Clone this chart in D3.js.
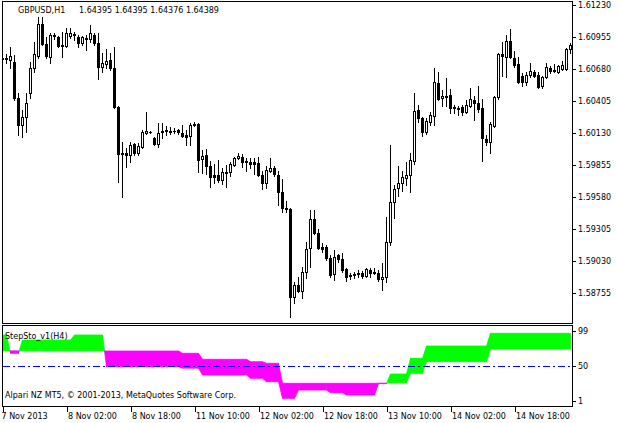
<!DOCTYPE html>
<html><head><meta charset="utf-8">
<script src="https://cdn.jsdelivr.net/npm/d3@7"></script>
<style>
body{margin:0;background:#fff}
svg{display:block}
text{font-family:"DejaVu Sans",sans-serif;font-size:8px;fill:#000}
</style>
</head><body>
<svg id="c" width="621" height="423"></svg>
<script>
// ---- data ----
const openP = [
1.60772,1.60763,1.60755,1.60738,1.60428,1.60196,1.60265,1.60471,1.60686,1.60789,
1.61064,1.60892,1.60781,1.60970,1.60952,1.60884,1.60875,1.60961,1.60978,1.60952,
1.60901,1.60944,1.60935,1.60970,1.60901,1.60695,1.60720,1.60755,1.60686,1.60351,
1.59956,1.59956,1.59938,1.60033,1.59956,1.60007,1.60127,1.60136,1.60085,1.60033,
1.60136,1.60145,1.60145,1.60145,1.60153,1.60127,1.60110,1.60102,1.60196,1.60205,
1.59904,1.59938,1.59844,1.59767,1.59767,1.59724,1.59784,1.59792,1.59852,1.59913,
1.59921,1.59887,1.59878,1.59878,1.59870,1.59767,1.59698,1.59801,1.59827,1.59767,
1.59620,1.59483,1.59474,1.58718,1.58821,1.58770,1.58933,1.59139,1.59388,1.59268,
1.59148,1.59148,1.59053,1.58916,1.59079,1.59045,1.58959,1.58907,1.58916,1.58916,
1.58924,1.58899,1.58950,1.58924,1.58924,1.58873,1.58890,1.59191,1.59535,1.59655,
1.59698,1.59741,1.59767,1.59887,1.60325,1.60256,1.60136,1.60222,1.60274,1.60557,
1.60428,1.60437,1.60454,1.60342,1.60342,1.60351,1.60308,1.60360,1.60411,1.60385,
1.60342,1.60076,1.60050,1.60188,1.60437,1.60806,1.60781,1.60918,1.60772,1.60720,
1.60617,1.60566,1.60626,1.60652,1.60626,1.60531,1.60609,1.60686,1.60669,1.60652,
1.60677,1.60677,1.60849];
const highP = [
1.60781,1.60806,1.60867,1.60798,1.60471,1.60325,1.60471,1.60738,1.60910,1.61124,
1.61124,1.60952,1.60987,1.60987,1.60961,1.60995,1.61030,1.61030,1.60995,1.60970,
1.60961,1.60970,1.61056,1.60987,1.60987,1.60815,1.60849,1.60815,1.60867,1.60360,
1.60050,1.59999,1.60050,1.60041,1.60041,1.60153,1.60308,1.60145,1.60093,1.60213,
1.60213,1.60188,1.60179,1.60170,1.60162,1.60196,1.60153,1.60213,1.60222,1.60213,
1.59981,1.59990,1.59887,1.59861,1.59895,1.59827,1.59852,1.59878,1.59921,1.59956,
1.59947,1.59913,1.59913,1.59913,1.59921,1.59801,1.59844,1.59913,1.59844,1.59801,
1.59732,1.59543,1.59483,1.58847,1.58890,1.58976,1.59191,1.59466,1.59466,1.59302,
1.59182,1.59165,1.59079,1.59122,1.59088,1.59096,1.58967,1.58924,1.58933,1.58950,
1.58941,1.58967,1.58967,1.58967,1.58950,1.59010,1.59406,1.60024,1.59681,1.59844,
1.59801,1.59878,1.59956,1.60471,1.60368,1.60265,1.60256,1.60308,1.60686,1.60652,
1.60497,1.60600,1.60506,1.60368,1.60360,1.60368,1.60411,1.60514,1.60445,1.60531,
1.60420,1.60110,1.60222,1.60445,1.60815,1.60910,1.60970,1.61021,1.60832,1.60781,
1.60643,1.60652,1.60729,1.60669,1.60652,1.60617,1.60729,1.60703,1.60720,1.60712,
1.60746,1.60858,1.60901];
const lowP = [
1.60755,1.60729,1.60686,1.60411,1.60110,1.60093,1.60136,1.60428,1.60652,1.60772,
1.60884,1.60772,1.60729,1.60935,1.60867,1.60781,1.60867,1.60944,1.60927,1.60867,
1.60884,1.60841,1.60910,1.60884,1.60592,1.60652,1.60686,1.60669,1.60342,1.59706,
1.59577,1.59835,1.59878,1.59938,1.59938,1.59999,1.60119,1.60127,1.60024,1.60007,
1.60085,1.60110,1.60119,1.60127,1.60119,1.60093,1.60024,1.60024,1.60188,1.59792,
1.59784,1.59775,1.59663,1.59698,1.59706,1.59689,1.59663,1.59758,1.59844,1.59904,
1.59835,1.59801,1.59827,1.59775,1.59758,1.59646,1.59655,1.59792,1.59758,1.59509,
1.59449,1.59449,1.58546,1.58667,1.58761,1.58710,1.58881,1.58976,1.59259,1.59131,
1.59105,1.59036,1.58890,1.58864,1.59019,1.58933,1.58856,1.58873,1.58881,1.58890,
1.58881,1.58890,1.58890,1.58916,1.58856,1.58778,1.58847,1.59165,1.59397,1.59586,
1.59629,1.59681,1.59620,1.59861,1.60222,1.60102,1.60119,1.60196,1.60196,1.60411,
1.60360,1.60360,1.60299,1.60299,1.60282,1.60282,1.60299,1.60351,1.60239,1.60308,
1.59887,1.60024,1.59956,1.60179,1.60420,1.60617,1.60609,1.60772,1.60695,1.60557,
1.60531,1.60540,1.60609,1.60609,1.60514,1.60514,1.60600,1.60643,1.60652,1.60643,
1.60669,1.60669,1.60815];
const closeP = [
1.60763,1.60772,1.60789,1.60428,1.60196,1.60265,1.60385,1.60686,1.60806,1.61064,
1.60892,1.60789,1.60970,1.60961,1.60875,1.60875,1.60987,1.60987,1.60970,1.60901,
1.60952,1.60935,1.60987,1.60901,1.60695,1.60729,1.60746,1.60686,1.60351,1.59947,
1.59947,1.59938,1.60024,1.59956,1.60016,1.60136,1.60145,1.60136,1.60033,1.60127,
1.60145,1.60153,1.60136,1.60145,1.60136,1.60102,1.60093,1.60196,1.60205,1.59895,
1.59930,1.59844,1.59749,1.59749,1.59724,1.59792,1.59792,1.59861,1.59913,1.59930,
1.59878,1.59878,1.59861,1.59861,1.59767,1.59698,1.59810,1.59827,1.59775,1.59620,
1.59483,1.59474,1.58718,1.58821,1.58770,1.58933,1.59131,1.59388,1.59268,1.59139,
1.59131,1.59053,1.58907,1.59062,1.59045,1.58950,1.58890,1.58899,1.58907,1.58924,
1.58899,1.58959,1.58924,1.58933,1.58873,1.58890,1.59191,1.59535,1.59646,1.59698,
1.59749,1.59767,1.59895,1.60317,1.60256,1.60136,1.60231,1.60282,1.60566,1.60420,
1.60445,1.60445,1.60342,1.60351,1.60334,1.60308,1.60368,1.60420,1.60385,1.60334,
1.60085,1.60050,1.60205,1.60437,1.60806,1.60789,1.60918,1.60781,1.60712,1.60566,
1.60566,1.60626,1.60660,1.60617,1.60523,1.60609,1.60695,1.60660,1.60660,1.60703,
1.60712,1.60849,1.60884];

// StepSto main / signal lines (per H1 bar)
const stoMain = [
93.4,93.4,67.8,67.8,67.8,86.4,86.4,86.4,86.4,86.4,
86.4,86.4,86.4,86.4,86.4,86.4,86.4,86.4,93.4,93.4,
93.4,93.4,93.4,93.4,93.4,93.4,49,49,49,49,
49,49,49,49,49,49,49,49,49,49,
49,49,49,49,49,47,47,47,47,47,
37.4,37.4,37.4,37.4,37.4,37.4,37.4,37.4,37.4,37.4,
37.4,37.4,32.8,32.8,32.8,32.8,28,28,28,28,
4.8,4.8,4.8,4.8,16.4,16.4,16.4,16.4,16.4,16.4,
16.4,16.4,12.6,12.6,12.6,12.6,9.4,9.4,9.4,9.4,
9.4,9.4,9.4,9.4,25.2,25.2,25.2,38.8,38.8,38.8,
38.8,38.8,60.8,60.8,60.8,60.8,78,78,78,78,
78,78,78,78,78,78,78,78,78,78,
78,78,95.8,95.8,95.8,95.8,95.8,95.8,95.8,95.8,
95.8,95.8,95.8,95.8,95.8,95.8,95.8,95.8,95.8,95.8,
95.8,95.8,95.8];
const stoSignal = [
71.4,71.4,71.2,71.2,71.2,71.4,71.4,71.4,71.4,71.4,
71.4,71.4,71.4,71.4,71.4,71.4,71.4,71.4,71.4,71.4,
71.4,71.4,71.4,71.4,71.4,71.4,71,71,71,71,
71,71,71,71,71,71,71,71,71,71,
71,71,71,71,71,67.8,67.8,67.8,67.8,67.8,
59.4,59.4,59.4,59.4,59.4,59.4,59.4,59.4,59.4,59.4,
59.4,59.4,56,56,56,56,53.8,53.8,53.8,53.8,
25.8,25.8,25.8,25.8,25.8,25.8,25.8,25.8,25.8,25.8,
25.8,25.8,25.8,25.8,25.8,25.8,25.8,25.8,25.8,25.8,
25.8,25.8,25.8,25.8,26,26,26,26.6,26.6,26.6,
26.6,26.6,39.8,39.8,39.8,39.8,56,56,56,56,
56,56,56,56,56,56,56,56,56,56,
56,56,73.8,73.8,73.8,73.8,73.8,73.8,73.8,73.8,
73.8,73.8,73.8,73.8,73.8,73.8,73.8,73.8,73.8,73.8,
73.8,73.8,73.8];

const priceTicks = [1.61230,1.60955,1.60680,1.60405,1.60130,1.59855,1.59580,1.59305,1.59030,1.58755];
const stoTicks = [99,50,1];
const stoLevel = 50;
const timeTickBars = [0,16,32,48,64,80,96,112,128];
const timeLabels = ["7 Nov 2013","8 Nov 02:00","8 Nov 18:00","11 Nov 10:00","12 Nov 02:00","12 Nov 18:00","13 Nov 10:00","14 Nov 02:00","14 Nov 18:00"];
const symbolText = "GBPUSD,H1";
const quoteText = "1.64395 1.64395 1.64376 1.64389";
const indicatorName = "StepSto_v1(H4)";
const copyright = "Alpari NZ MT5, \u00A9 2001-2013, MetaQuotes Software Corp.";

// ---- drawing ----
const svg = d3.select("#c");
const N = closeP.length;
const x = d3.scaleLinear().domain([0, N - 1]).range([2.5, 570.5]);
const y = d3.scaleLinear().domain([1.61230, 1.58755]).range([4.7, 292.7]);
const yi = d3.scaleLinear().domain([1, 99]).range([401, 331]);

const defs = svg.append("defs");
defs.append("clipPath").attr("id","mainClip").append("rect").attr("x",3).attr("y",2).attr("width",569).attr("height",321);
defs.append("clipPath").attr("id","indClip").append("rect").attr("x",3).attr("y",326).attr("width",569).attr("height",80);

const bars = d3.range(N).map(i => ({i, o: openP[i], h: highP[i], l: lowP[i], c: closeP[i]}));

const gMain = svg.append("g").attr("clip-path","url(#mainClip)").attr("shape-rendering","crispEdges");
// wicks
gMain.selectAll("rect.wick").data(bars).join("rect").attr("class","wick")
  .attr("x", d => x(d.i) - 0.5).attr("width", 1)
  .attr("y", d => Math.round(y(d.h)))
  .attr("height", d => Math.round(y(d.l)) - Math.round(y(d.h)) + 1)
  .attr("fill","#000");
// bodies
gMain.selectAll("rect.body").data(bars).join("rect").attr("class","body")
  .each(function(d){
    const t = Math.round(y(Math.max(d.o,d.c))), b = Math.round(y(Math.min(d.o,d.c)));
    const sel = d3.select(this);
    if (d.c > d.o) {
      sel.attr("x", x(d.i) - 1).attr("width", 2).attr("y", t + 0.5).attr("height", Math.max(b - t, 0))
         .attr("fill","#fff").attr("stroke","#000").attr("stroke-width",1);
    } else {
      sel.attr("x", x(d.i) - 1.5).attr("width", 3).attr("y", t).attr("height", b - t + 1).attr("fill","#000");
    }
  });

// indicator filling
const gInd = svg.append("g").attr("clip-path","url(#indClip)");
const GREEN = "#00ff00", MAG = "#ff00ff";
const polys = [];
for (let i = 0; i < N - 1; i++) {
  const x0 = x(i), x1 = x(i + 1);
  const a0 = yi(stoMain[i]), a1 = yi(stoMain[i+1]), b0 = yi(stoSignal[i]), b1 = yi(stoSignal[i+1]);
  const d0 = stoMain[i] - stoSignal[i], d1 = stoMain[i+1] - stoSignal[i+1];
  if (d0 * d1 >= 0) {
    polys.push({pts: [[x0,a0],[x1,a1],[x1,b1],[x0,b0]], col: (d0 + d1 >= 0) ? GREEN : MAG});
  } else {
    const t = d0 / (d0 - d1);
    const xc = x0 + t * (x1 - x0), yc = a0 + t * (a1 - a0);
    polys.push({pts: [[x0,a0],[xc,yc],[x0,b0]], col: d0 > 0 ? GREEN : MAG});
    polys.push({pts: [[xc,yc],[x1,a1],[x1,b1]], col: d1 > 0 ? GREEN : MAG});
  }
}
gInd.selectAll("path.fill").data(polys).join("path").attr("class","fill")
  .attr("d", d => d3.line()(d.pts) + "Z")
  .attr("fill", d => d.col).attr("stroke", d => d.col).attr("stroke-width", 0.8);

// level line
const yl = Math.round(yi(stoLevel)) + 0.5;
svg.append("line").attr("x1", 3).attr("x2", 572).attr("y1", yl).attr("y2", yl)
  .attr("stroke","#0000ff").attr("stroke-width",1).attr("stroke-dasharray","7,3,2,3")
  .attr("shape-rendering","crispEdges");

// panel frames
const frames = svg.append("g").attr("fill","none").attr("stroke","#000").attr("shape-rendering","crispEdges");
frames.append("rect").attr("x",2.5).attr("y",1.5).attr("width",570).attr("height",322);
frames.append("rect").attr("x",2.5).attr("y",325.5).attr("width",570).attr("height",81);

// price axis
const pa = svg.append("g").attr("transform","translate(573,0)")
  .call(d3.axisRight(y).tickValues(priceTicks).tickSize(3).tickPadding(2).tickFormat(d3.format(".5f")));
pa.select(".domain").remove();
pa.attr("font-family", null).attr("font-size", null);
pa.selectAll("line").attr("shape-rendering","crispEdges");

// indicator axis
const ia = svg.append("g").attr("transform","translate(573,0)")
  .call(d3.axisRight(yi).tickValues(stoTicks).tickSize(3).tickPadding(2).tickFormat(d3.format("d")));
ia.select(".domain").remove();
ia.attr("font-family", null).attr("font-size", null);
ia.selectAll("line").attr("shape-rendering","crispEdges");

// time axis
const ta = svg.append("g").attr("transform","translate(0,407)")
  .call(d3.axisBottom(x).tickValues(timeTickBars).tickSize(5).tickFormat((d,i) => timeLabels[i]));
ta.select(".domain").remove();
ta.attr("font-family", null).attr("font-size", null);
ta.selectAll("line").attr("shape-rendering","crispEdges");
ta.selectAll("text").attr("text-anchor","start").attr("dy", null).attr("y", 12)
  .attr("x", (d,i) => i === 0 ? -1.5 : 1);

// texts
svg.append("text").attr("x", 18).attr("y", 13).text(symbolText);
svg.append("text").attr("x", 79).attr("y", 13).text(quoteText);
svg.append("text").attr("x", 5).attr("y", 339).text(indicatorName);
svg.append("text").attr("x", 5).attr("y", 397.5).text(copyright);
</script>
</body></html>
